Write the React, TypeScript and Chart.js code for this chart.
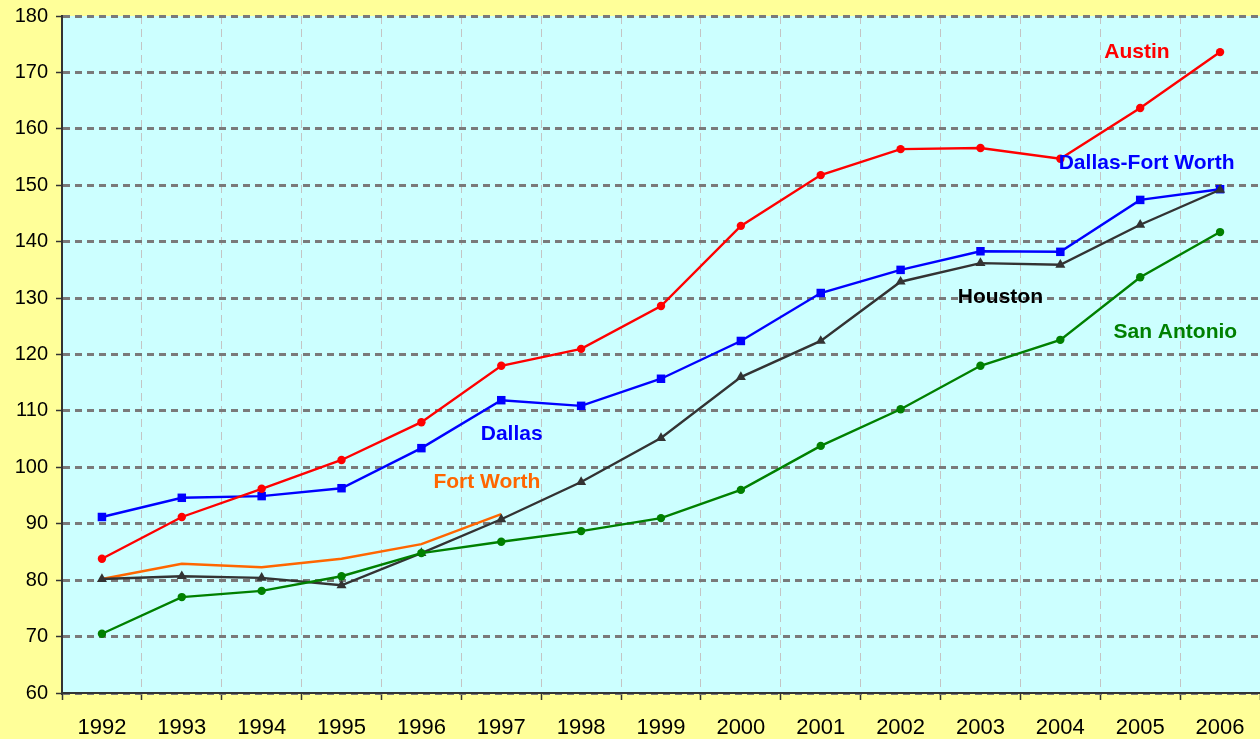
import React, { useEffect, useRef } from "react";
import { Chart, registerables } from "chart.js";

Chart.register(...registerables);

const years = ["1992","1993","1994","1995","1996","1997","1998","1999","2000","2001","2002","2003","2004","2005","2006"];

const houston = [80.2, 80.7, 80.4, 79.1, 84.8, 90.8, 97.4, 105.2, 116.0, 122.4, 132.9, 136.2, 135.9, 143.0, 149.2];
const sanAntonio = [70.5, 77.0, 78.1, 80.7, 84.8, 86.8, 88.7, 91.0, 96.0, 103.8, 110.3, 118.0, 122.6, 133.7, 141.7];
const austin = [83.8, 91.2, 96.2, 101.3, 108.0, 118.0, 121.0, 128.6, 142.8, 151.8, 156.4, 156.6, 154.7, 163.7, 173.6];
const dallas = [91.2, 94.6, 94.9, 96.3, 103.4, 111.9, 110.9, 115.7, 122.4, 130.9, 135.0, 138.3, 138.2, 147.4, 149.3];
const fortWorth = [80.2, 82.9, 82.3, 83.8, 86.4, 91.7, null, null, null, null, null, null, null, null, null];

const yMin = 60;
const yMax = 180;
const yStep = 10;

// annotation labels: text, colour, category position (fractional index), value
const labelTexts = ["Austin", "Dallas-Fort Worth", "Houston", "San Antonio", "Dallas", "Fort Worth"];
const labelColors = ["#ff0000", "#0000ff", "#000000", "#008000", "#0000ff", "#ff6600"];
const labelXIndex = [12.96, 13.08, 11.25, 13.44, 5.13, 4.82];
const labelYValue = [173.6, 153.9, 130.2, 124.0, 105.8, 97.4];

const FONT = "'Liberation Sans', Arial, Helvetica, sans-serif";

export default function App() {
  const ref = useRef<HTMLCanvasElement | null>(null);

  useEffect(() => {
    if (!ref.current) return;

    const bgPlugin = {
      id: "plotBg",
      beforeDraw(chart: any) {
        const { ctx, chartArea } = chart;
        ctx.save();
        ctx.fillStyle = "#ccffff";
        ctx.fillRect(chartArea.left, chartArea.top, chartArea.right - chartArea.left, chartArea.bottom - chartArea.top);
        ctx.restore();
      },
    };

    const labelPlugin = {
      id: "seriesLabels",
      afterDatasetsDraw(chart: any) {
        const { ctx } = chart;
        const xs = chart.scales.x;
        const ys = chart.scales.y;
        ctx.save();
        ctx.font = `bold 21px ${FONT}`;
        ctx.textAlign = "center";
        ctx.textBaseline = "middle";
        labelTexts.forEach((t, i) => {
          ctx.fillStyle = labelColors[i];
          ctx.fillText(t, xs.getPixelForValue(labelXIndex[i]), ys.getPixelForValue(labelYValue[i]));
        });
        ctx.restore();
      },
    };

    const chart = new Chart(ref.current, {
      type: "line",
      data: {
        labels: years,
        datasets: [
          {
            label: "San Antonio",
            data: sanAntonio,
            borderColor: "#008000",
            backgroundColor: "#008000",
            borderWidth: 2.4,
            pointStyle: "circle",
            pointRadius: 4.2,
            pointBorderWidth: 0,
          },
          {
            label: "Houston",
            data: houston,
            borderColor: "#333333",
            backgroundColor: "#333333",
            borderWidth: 2.4,
            pointStyle: "triangle",
            pointRadius: 5.8,
            pointBorderWidth: 0,
          },
          {
            label: "Austin",
            data: austin,
            borderColor: "#ff0000",
            backgroundColor: "#ff0000",
            borderWidth: 2.4,
            pointStyle: "circle",
            pointRadius: 4.2,
            pointBorderWidth: 0,
          },
          {
            label: "Dallas",
            data: dallas,
            borderColor: "#0000ff",
            backgroundColor: "#0000ff",
            borderWidth: 2.4,
            pointStyle: "rect",
            pointRadius: 6,
            pointBorderWidth: 0,
          },
          {
            label: "Fort Worth",
            data: fortWorth,
            borderColor: "#ff6600",
            backgroundColor: "#ff6600",
            borderWidth: 2.4,
            pointRadius: 0,
            spanGaps: false,
          },
        ],
      },
      options: {
        responsive: false,
        animation: false,
        layout: { autoPadding: false, padding: { top: 16, left: 0, right: 0, bottom: 0 } },
        plugins: {
          legend: { display: false },
          tooltip: { enabled: false },
          title: { display: false },
        },
        scales: {
          x: {
            offset: true,
            grid: {
              offset: true,
              color: "#c4c4c4",
              lineWidth: 1,
              drawTicks: true,
              tickLength: 7,
              tickColor: "#333333",
              tickWidth: 1.5,
              tickBorderDash: [],
            },
            border: { display: true, color: "#333333", width: 2, dash: [8, 5] },
            ticks: {
              color: "#000000",
              font: { family: FONT, size: 22 },
              padding: 15,
              maxRotation: 0,
              autoSkip: false,
            },
            afterFit(scale: any) {
              scale.height = 46;
              scale.paddingLeft = 0;
              scale.paddingRight = 0;
            },
          },
          y: {
            min: yMin,
            max: yMax,
            grid: {
              color: "#7a7a7a",
              lineWidth: 3,
              drawTicks: true,
              tickLength: 6,
              tickColor: "#333333",
              tickWidth: 1.5,
              tickBorderDash: [],
            },
            border: { display: true, color: "#333333", width: 2, dash: [7, 5] },
            ticks: {
              stepSize: yStep,
              color: "#000000",
              font: { family: FONT, size: 20 },
              padding: 8,
            },
            afterFit(scale: any) {
              scale.width = 62;
              scale.paddingTop = 0;
              scale.paddingBottom = 0;
            },
          },
        },
      },
      plugins: [bgPlugin, labelPlugin],
    });

    return () => chart.destroy();
  }, []);

  return (
    <div
      style={{
        position: "fixed",
        left: 0,
        top: 0,
        width: 1260,
        height: 739,
        background: "#ffff99",
      }}
    >
      <canvas ref={ref} width={1260} height={739} style={{ display: "block" }} />
    </div>
  );
}
